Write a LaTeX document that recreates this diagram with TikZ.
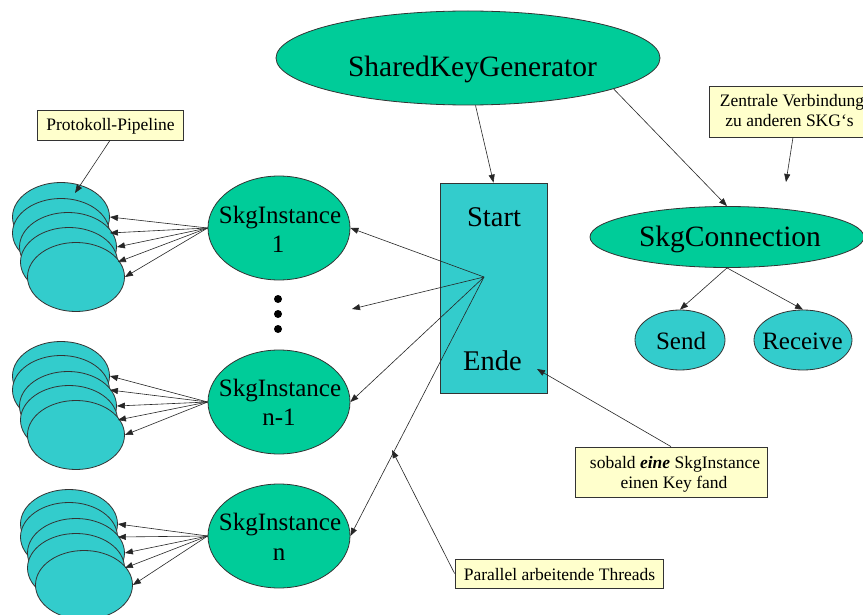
\documentclass[tikz,border=0pt]{standalone}
\usepackage{fontspec}
\setmainfont{Liberation Serif}
\usetikzlibrary{arrows.meta,shapes.geometric}
\definecolor{skggreen}{RGB}{0,204,153}
\definecolor{skgcyan}{RGB}{51,204,204}
\definecolor{noteyellow}{RGB}{255,255,204}

\tikzset{
  outline/.style={draw=black!80, line width=0.8pt},
  greenell/.style={ellipse, outline, fill=skggreen, inner sep=0pt},
  cyanell/.style={ellipse, outline, fill=skgcyan, inner sep=0pt},
  pipe/.style={cyanell, minimum width=97pt, minimum height=69pt},
  inst/.style={greenell, minimum width=142pt, minimum height=104pt},
  note/.style={rectangle, outline, fill=noteyellow, inner sep=0pt},
  conn/.style={draw=black!85, line width=0.6pt, -{Triangle[length=8pt,width=6pt]}},
  txt/.style={anchor=base, inner sep=0pt},
  hugetxt/.style={txt, font=\fontsize{29.5}{34}\selectfont},
  bigtxt/.style={txt, font=\fontsize{28.5}{34}\selectfont},
  midtxt/.style={txt, font=\fontsize{25}{30}\selectfont},
  smalltxt/.style={txt, font=\fontsize{17.5}{21}\selectfont},
}

\begin{document}
\begin{tikzpicture}[x=1pt, y=-1pt]
\useasboundingbox (0,0) rectangle (863,615);
\clip (0,0) rectangle (863,615);
\fill[white] (0,0) rectangle (863,615);

% --- top level generator ---
\node[greenell, minimum width=384pt, minimum height=94pt] (skg) at (468,58) {};
\node[hugetxt] (skgT) at (472.5,77) {SharedKeyGenerator};

% --- start / end block ---
\node[rectangle, outline, fill=skgcyan, minimum width=107pt, minimum height=210pt, inner sep=0pt] (ctl) at (493.5,288) {};
\node[bigtxt] (startT) at (494,227) {Start};
\node[bigtxt] (endeT) at (492.5,370) {Ende};
\coordinate (hub) at (484,277);
\coordinate (endeTip) at (537,369);

% --- connection part ---
\node[greenell, minimum width=274pt, minimum height=61pt] (skgc) at (727,237) {};
\node[hugetxt] (skgcT) at (730,247) {SkgConnection};
\node[cyanell, minimum width=90pt, minimum height=60pt] (send) at (680,340) {};
\node[midtxt] (sendT) at (681,349) {Send};
\node[cyanell, minimum width=98pt, minimum height=60pt] (recv) at (803,340) {};
\node[midtxt] (recvT) at (802.5,349) {Receive};

% --- instances ---
\node[inst] (si1) at (279,228) {};
\node[midtxt] (si1a) at (280,223) {SkgInstance};
\node[midtxt] (si1b) at (278,252) {1};
\node[inst] (si2) at (279,402) {};
\node[midtxt] (si2a) at (280,396) {SkgInstance};
\node[midtxt] (si2b) at (279,425) {n-1};
\node[inst] (si3) at (279,536) {};
\node[midtxt] (si3a) at (280,530) {SkgInstance};
\node[midtxt] (si3b) at (279,560) {n};

% ellipsis between the instances
\foreach \k/\y in {1/299,2/314,3/329}
  \fill[black] (278,\y) circle[radius=4pt] coordinate (dot\k);

% --- protocol pipelines (stacked) ---
\foreach \n/\x/\y in {a/61/217, b/61/233, c/68/247, d/69/262, e/76/277}
  \node[pipe] (s1\n) at (\x,\y) {};
\foreach \n/\x/\y in {a/61/376, b/61/390, c/68/406, d/69/420, e/76/435}
  \node[pipe] (s2\n) at (\x,\y) {};
\foreach \n/\x/\y in {a/69/524, b/69/537, c/76/553, d/76/568, e/84/585}
  \node[pipe] (s3\n) at (\x,\y) {};

\foreach \n in {a,b,c,d,e} {
  \draw[conn] (si1.west) -- (s1\n.east);
  \draw[conn] (si2.west) -- (s2\n.east);
  \draw[conn] (si3.west) -- (s3\n.east);
}

% --- notes ---
\node[note, minimum width=146pt, minimum height=30pt] (pp) at (110,125) {};
\node[smalltxt] (ppT) at (110.5,131) {Protokoll-Pipeline};
\coordinate (ppTip) at (75,193);

\node[note, minimum width=162pt, minimum height=51pt] (zent) at (790,111.5) {};
\node[smalltxt] (zentA) at (792,107) {Zentrale Verbindung};
\node[smalltxt] (zentB) at (789.5,127) {zu anderen SKG‘s};
\coordinate (zentTip) at (786,182);

\node[note, minimum width=192pt, minimum height=50pt] (sob) at (671,472) {};
\node[smalltxt] (sobA) at (675,468) {sobald \textbf{\textit{eine}} SkgInstance};
\node[smalltxt] (sobB) at (674,488) {einen Key fand};

\node[note, minimum width=208pt, minimum height=29pt] (par) at (559,573.5) {};
\node[smalltxt] (parT) at (559.5,580) {Parallel arbeitende Threads};
\coordinate (parTip) at (392,450);
\coordinate (gapTip) at (352,309);

% --- connectors ---
\draw[conn] (skg.279) -- (ctl.north);
\draw[conn] (skg.348) -- (skgc.north);
\draw[conn] (skgc.south) -- (send.north);
\draw[conn] (skgc.south) -- (recv.north);
\draw[conn] (hub) -- (si1.east);
\draw[conn] (hub) -- (gapTip);
\draw[conn] (hub) -- (si2.east);
\draw[conn] (hub) -- (si3.east);
\draw[conn] (pp.south) -- (ppTip);
\draw[conn] (zent.south -| 793,0) -- (zentTip);
\draw[conn] (sob.north) -- (endeTip);
\draw[conn] (par.west) -- (parTip);
\end{tikzpicture}
\end{document}
